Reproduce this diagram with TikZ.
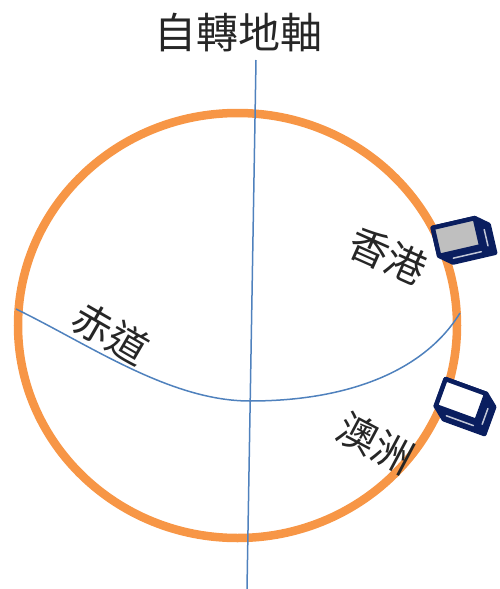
\documentclass[tikz,border=0pt]{standalone}
\usepackage{fontspec}
\usetikzlibrary{shapes.geometric}
\setmainfont{Noto Sans CJK TC}
\definecolor{globeorange}{RGB}{247,150,70}
\definecolor{linkblue}{RGB}{79,129,189}
\definecolor{boxnavy}{RGB}{10,30,95}
\definecolor{facegrey}{RGB}{191,191,191}
\tikzset{
  globe/.style={draw=globeorange, line width=8.5},
  guide/.style={draw=linkblue, line width=1.5},
  place/.style={font=\fontsize{40}{40}\selectfont, text=black!85, inner sep=0},
  pics/tvbox/.style={code={
    \filldraw[boxnavy, line width=4.5, line join=round]
      (-18,-12) -- (18,-12) -- (28,-4) -- (28,20) -- (-8,20) -- (-18,12) -- cycle;
    \filldraw[fill=#1, draw=boxnavy, line width=4.5, line join=round]
      (-18,-12) rectangle (18,12);
    \draw[white!75!boxnavy, line width=1.5, line cap=round] (23.5,-1) -- (23.5,13);
    \draw[white!75!boxnavy, line width=1.5, line cap=round] (-7,16.5) -- (17,16.5);
  }}
}
\begin{document}
\begin{tikzpicture}[x=1pt, y=-1pt]
  \useasboundingbox (0,0) rectangle (499,589);
  % globe outline
  \node[globe, ellipse, minimum width=439, minimum height=425, inner sep=0] (globe) at (237.5,325.5) {};
  % rotation axis
  \coordinate (axtop) at (256,60);
  \coordinate (axbot) at (247,589);
  \draw[guide] (axtop) -- (axbot);
  % equator
  \coordinate (eqW) at (16,309);
  \coordinate (eqS) at (250,401);
  \coordinate (eqE) at (460,313);
  \draw[guide] (eqW) .. controls (90,345) and (170,401) .. (eqS)
               .. controls (350,401) and (425,370) .. (eqE);
  % markers on the globe
  \pic (hk) at (457,237) [rotate=13, scale=1.2] {tvbox=facegrey};
  \pic (au) at (461,400) [rotate=-20, scale=1.2] {tvbox=white};
  % labels
  \node[font=\fontsize{42}{42}\selectfont, text=black!85, inner sep=0] (title) at (238,33) {自轉地軸};
  \node[place, rotate=-24] (hklabel) at (388,256) {香港};
  \node[place, rotate=-28] (aulabel) at (376,443) {澳洲};
  \node[place, rotate=-30] (eqlabel) at (111,333) {赤道};
\end{tikzpicture}
\end{document}
